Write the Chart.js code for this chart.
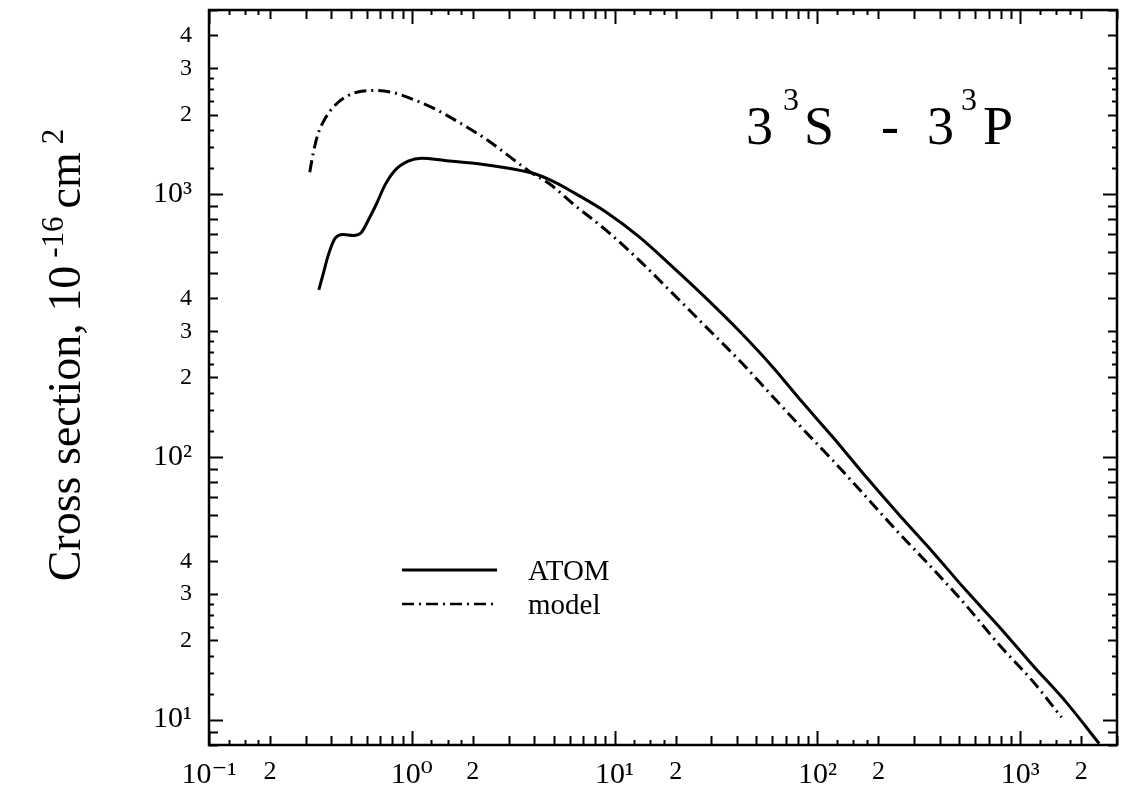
<!DOCTYPE html>
<html><head><meta charset="utf-8">
<script src="https://cdn.jsdelivr.net/npm/chart.js@4.4.0/dist/chart.umd.min.js"></script>
<style>html,body{margin:0;padding:0;background:#fff;} canvas{display:block;}</style>
</head><body>
<canvas id="c" width="1122" height="792"></canvas>
<script>
// ---- data ----
const atomEnergy = [0.348,0.366,0.387,0.4175,0.459,0.514,0.565,0.609,0.670,0.736,0.825,0.959,1.116,1.454,2.12,3.10,4.04,5.06,6.23,9.10,13.27,19.37,28.3,41.3,60.3,81.5,119,174,254,370,540,789,1151,1680,2450];
const atomSigma  = [431,497,583,675,700,694,714,791,916,1076,1226,1330,1366,1339,1301,1245,1191,1107,1014,851,684,526,400,300,219,166,118.7,83.6,59.8,43.4,31.0,22.5,16.1,11.67,8.1];
const modelEnergy = [0.314,0.326,0.345,0.373,0.410,0.468,0.565,0.657,0.794,0.997,1.298,1.757,2.376,2.981,3.74,4.88,6.23,9.10,13.27,19.37,28.3,41.3,60.3,81.5,119,174,254,370,540,789,1151,1599];
const modelSigma  = [1208,1419,1690,1928,2134,2329,2454,2470,2434,2296,2103,1845,1595,1399,1227,1077,916,725,557,417,311,232,169,131.5,96.8,70.2,50.9,37.5,27.2,19.2,14.0,10.2];

const seriesNames = ['ATOM', 'model'];
const titleParts = ['3', '3', 'S', '-', '3', '3', 'P'];
const yAxisTitleParts = ['Cross section, 10', '-16', 'cm', '2'];

// axis ticks
const xMin = 0.1, xMax = 3000, yMin = 8, yMax = 5000;
const xDecades = [0.1, 1, 10, 100, 1000];
const xDecadeLabels = ['10\u207B\u00B9', '10\u2070', '10\u00B9', '10\u00B2', '10\u00B3'];
const xMinorMult = [1.25, 1.5, 1.75, 2, 3, 4, 5, 6, 7, 8, 9];
const xLabeledMult = [2];
const yDecades = [1, 10, 100, 1000];
const yDecadeLabels = ['1', '10\u00B9', '10\u00B2', '10\u00B3'];
const yMinorMult = [1.25, 1.5, 1.75, 2, 2.25, 2.5, 2.75, 3, 4, 5, 6, 7, 8, 9];
const yLabeledMult = [2, 3, 4];

const SERIF = "'Liberation Serif', 'DejaVu Serif', 'Times New Roman', serif";

function buildTicks(decades, mults, labeledMults, decadeLabels, min, max) {
  const list = [];
  decades.forEach((d, i) => {
    list.push({ value: d, label: decadeLabels[i], kind: 'major' });
    mults.forEach(m => {
      const v = +(d * m).toPrecision(6);
      const lab = labeledMults.includes(m) ? String(m) : '';
      list.push({ value: v, label: lab, kind: Number.isInteger(m) ? 'minor' : 'small' });
    });
  });
  return list.filter(t => t.value >= min * 0.9999 && t.value <= max * 1.0001);
}
const xTicks = buildTicks(xDecades, xMinorMult, xLabeledMult, xDecadeLabels, xMin, xMax);
const yTicks = buildTicks(yDecades, yMinorMult, yLabeledMult, yDecadeLabels, yMin, yMax);
const findTick = (list, v) => list.find(t => Math.abs(t.value - v) / v < 1e-6);

const tickLen = { major: 14, minor: 9, small: 5 };

const framePlugin = {
  id: 'frameTicks',
  afterDraw(chart) {
    const { ctx, chartArea: a, scales: { x, y } } = chart;
    ctx.save();
    ctx.strokeStyle = '#000';
    ctx.fillStyle = '#000';
    ctx.lineWidth = 2;
    ctx.beginPath();
    xTicks.forEach(t => {
      const px = Math.round(x.getPixelForValue(t.value)) + 0.5;
      const L = tickLen[t.kind];
      ctx.moveTo(px, a.bottom); ctx.lineTo(px, a.bottom - L);
      ctx.moveTo(px, a.top); ctx.lineTo(px, a.top + L);
    });
    yTicks.forEach(t => {
      const py = Math.round(y.getPixelForValue(t.value)) + 0.5;
      const L = tickLen[t.kind];
      ctx.moveTo(a.left, py); ctx.lineTo(a.left + L, py);
      ctx.moveTo(a.right, py); ctx.lineTo(a.right - L, py);
    });
    ctx.stroke();
    ctx.lineWidth = 2.5;
    ctx.strokeRect(a.left, a.top, a.right - a.left, a.bottom - a.top);

    // legend
    const lx0 = 402, lx1 = 497;
    const rows = [{ y: 570, dash: [], name: seriesNames[0] }, { y: 604, dash: [12, 5, 2, 5], name: seriesNames[1] }];
    rows.forEach((r, i) => {
      ctx.setLineDash(r.dash);
      ctx.lineWidth = i === 0 ? 3 : 2.5;
      ctx.beginPath(); ctx.moveTo(lx0, r.y); ctx.lineTo(lx1, r.y); ctx.stroke();
      ctx.setLineDash([]);
      ctx.font = '29px ' + SERIF;
      ctx.textBaseline = 'middle';
      ctx.textAlign = 'left';
      ctx.fillText(r.name, 528, r.y + 2);
    });

    // title 3 3S - 3 3P
    ctx.textBaseline = 'alphabetic';
    const big = '54px ' + SERIF, small = '32px ' + SERIF;
    const base = 144, supBase = 110;
    const pos = [746, 783, 804, 881, 927, 961, 983];
    titleParts.forEach((s, i) => {
      const isSup = (i === 1 || i === 5);
      ctx.font = isSup ? small : big;
      ctx.fillText(s, pos[i], isSup ? supBase : base);
    });

    // y axis title, rotated, with superscripts
    const fMain = '46px ' + SERIF, fSup = '31px ' + SERIF;
    const widths = yAxisTitleParts.map((p, i) => { ctx.font = (i % 2) ? fSup : fMain; return ctx.measureText(p).width; });
    const gap = 8;
    const total = widths.reduce((s, w) => s + w, 0) + gap * 3;
    ctx.translate(80, 355);
    ctx.rotate(-Math.PI / 2);
    let cx = -total / 2;
    yAxisTitleParts.forEach((p, i) => {
      const sup = i % 2 === 1;
      ctx.font = sup ? fSup : fMain;
      ctx.fillText(p, cx, sup ? -17 : 0);
      cx += widths[i] + gap;
    });
    ctx.restore();
  }
};

const tickFont = (list, bigSize, smallSize) => c => {
  const t = c.tick && findTick(list, c.tick.value);
  if (!t || t.label === '') return { family: SERIF, size: 1 };
  return { family: SERIF, size: t.kind === 'major' ? bigSize : smallSize };
};

const ctx = document.getElementById('c').getContext('2d');
new Chart(ctx, {
  type: 'line',
  data: {
    datasets: [
      {
        label: seriesNames[0],
        data: atomEnergy.map((e, i) => ({ x: e, y: atomSigma[i] })),
        borderColor: '#000', borderWidth: 3, pointRadius: 0, fill: false,
        cubicInterpolationMode: 'monotone'
      },
      {
        label: seriesNames[1],
        data: modelEnergy.map((e, i) => ({ x: e, y: modelSigma[i] })),
        borderColor: '#000', borderWidth: 3, borderDash: [12, 5, 2, 5], pointRadius: 0, fill: false,
        cubicInterpolationMode: 'monotone'
      }
    ]
  },
  options: {
    responsive: false,
    animation: false,
    devicePixelRatio: 1,
    layout: { padding: { left: 0, top: 10, right: 5, bottom: 0 } },
    plugins: { legend: { display: false }, tooltip: { enabled: false }, title: { display: false } },
    scales: {
      x: {
        type: 'logarithmic', min: xMin, max: xMax, bounds: 'data',
        grid: { display: false }, border: { display: false },
        afterBuildTicks: s => { s.ticks = xTicks.map(t => ({ value: t.value })); },
        afterFit: s => { s.height = 47; },
        ticks: {
          autoSkip: false, maxRotation: 0, minRotation: 0, padding: 4, color: '#000',
          font: tickFont(xTicks, 30, 26),
          callback: v => { const t = findTick(xTicks, v); return t ? t.label : ''; }
        }
      },
      y: {
        type: 'logarithmic', min: yMin, max: yMax, bounds: 'data',
        grid: { display: false }, border: { display: false },
        afterBuildTicks: s => { s.ticks = yTicks.map(t => ({ value: t.value })); },
        afterFit: s => { s.width = 209; },
        ticks: {
          autoSkip: false, padding: 9, color: '#000',
          font: tickFont(yTicks, 30, 24),
          callback: v => { const t = findTick(yTicks, v); return t ? t.label : ''; }
        }
      }
    }
  },
  plugins: [framePlugin]
});
</script>
</body></html>
